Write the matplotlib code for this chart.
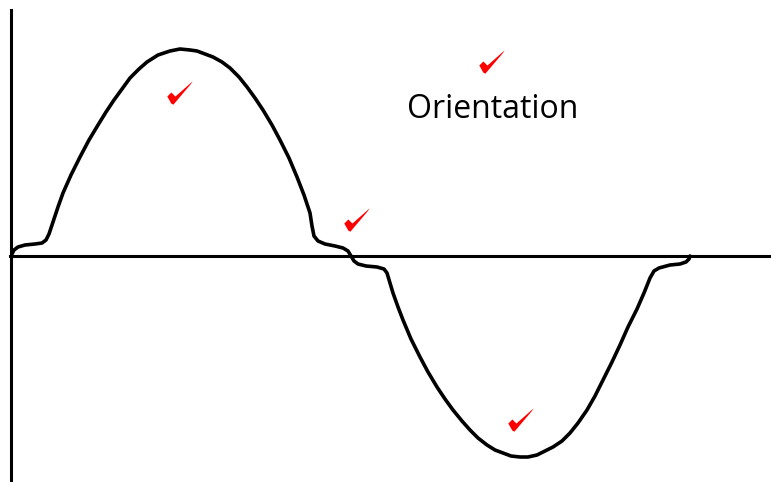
import numpy as np
import matplotlib
matplotlib.use('Agg')
import matplotlib.pyplot as plt
from matplotlib.path import Path

# hand drawn wave (origin where the two axes cross)
wave_x = [1, 3, 7, 14, 24, 31, 35, 38, 42, 47, 52, 60, 69, 78, 87, 95, 103, 111, 119, 128,
          136, 147, 159, 169, 179, 186, 194, 202, 211, 219, 228, 236, 244, 252, 261, 269,
          278, 286, 293, 299, 301, 303, 307, 314, 324, 332, 337, 340, 343, 347, 355, 366,
          373, 376, 379, 382, 387, 392, 400, 409, 417, 426, 434, 442, 451, 459, 467, 476,
          484, 492, 500, 509, 517, 526, 534, 542, 551, 559, 567, 576, 584, 592, 601, 609,
          617, 626, 633, 639, 643, 648, 659, 669, 675, 678, 679]
wave_y = [2, 6, 9, 11, 12, 13, 16, 22, 34, 49, 63, 81, 99, 116, 131, 144, 156, 167, 178, 187,
          194, 201, 205, 207, 206, 205, 202, 199, 194, 188, 179, 169, 158, 146, 131, 116,
          98, 79, 61, 43, 30, 20, 15, 12, 10, 8, 5, 0, -5, -8, -10, -11,
          -13, -17, -27, -37, -51, -64, -83, -101, -116, -131, -143, -154, -165, -174, -182, -189,
          -194, -197, -200, -201, -201, -199, -195, -191, -185, -177, -167, -154, -140, -124, -106, -89,
          -71, -53, -37, -22, -15, -12, -9, -8, -6, -3, 0]

check_x = [169, 346, 481, 510]
check_y = [163, 36, 194, -164]

label = 'Orientation'
label_x, label_y = 482, 146

# brush-like tick mark
check_verts = [(-13, -3), (-9, 1), (-5, -3), (12, 12), (10, 9), (-7, -11), (-9, -10), (-13, -3)]
check_codes = [Path.MOVETO] + [Path.LINETO] * 6 + [Path.CLOSEPOLY]
check_marker = Path(check_verts, check_codes)

fig = plt.figure(figsize=(7.71, 4.82), dpi=100)
ax = fig.add_axes([0, 0, 1, 1])
ax.set_xlim(-11, 760)
ax.set_ylim(-226, 256)

ax.plot(wave_x, wave_y, color='black', lw=2.6, solid_joinstyle='round', solid_capstyle='round')
ax.plot(check_x, check_y, ls='none', marker=check_marker, markersize=19,
        color='#ff0000', markeredgewidth=0)
ax.text(label_x, label_y, label, fontsize=23, family='Open Sans', ha='center', va='center')

for s in ['top', 'right']:
    ax.spines[s].set_visible(False)
ax.spines['left'].set_position(('data', 0))
ax.spines['bottom'].set_position(('data', 0))
ax.spines['left'].set_bounds(-226, 246)
ax.spines['bottom'].set_bounds(-1, 760)
for s in ['left', 'bottom']:
    ax.spines[s].set_linewidth(2.2)
ax.set_xticks([])
ax.set_yticks([])
ax.patch.set_visible(False)

plt.savefig('out.png', dpi=100)
